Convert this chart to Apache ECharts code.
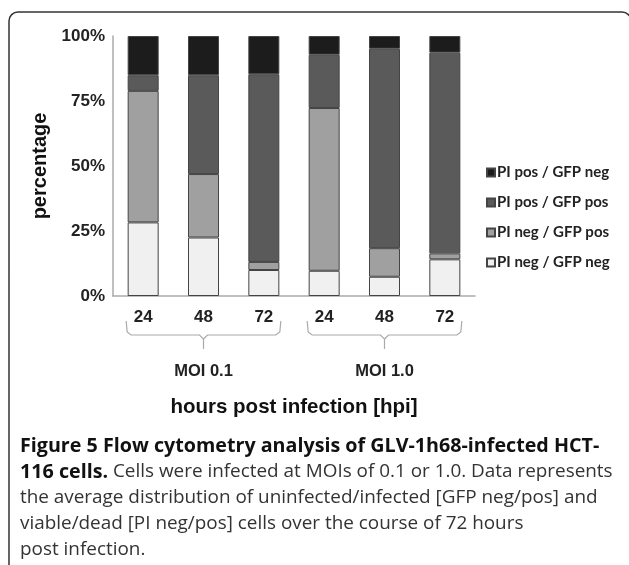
<!DOCTYPE html>
<html>
<head>
<meta charset="utf-8">
<title>Figure 5</title>
<script src="https://cdn.jsdelivr.net/npm/echarts@6/dist/echarts.min.js"></script>
<style>
  html, body { margin: 0; padding: 0; background: #fff; }
  #chart { width: 629px; height: 565px; }
</style>
</head>
<body>
<div id="chart"></div>
<script>
// categories: hpi within each MOI group
const hours = ['24', '48', '72', '24', '48', '72']
const groups = ['MOI 0.1', 'MOI 1.0']
const yTicks = [0, 25, 50, 75, 100]

// stacked percentages, bottom to top
const piNegGfpNeg = [28.3, 22.5, 10.0, 9.7, 7.4, 14.1]
const piNegGfpPos = [50.6, 24.4, 3.1, 62.6, 11.0, 2.3]
const piPosGfpPos = [6.0, 38.0, 72.2, 20.5, 76.7, 77.2]
const piPosGfpNeg = [15.1, 15.1, 14.7, 7.2, 4.9, 6.4]

const captionLines = [
  [['b', 'Figure 5 Flow cytometry analysis of GLV-1h68-infected HCT-']],
  [['b', '116 cells.'], ['r', ' Cells were infected at MOIs of 0.1 or 1.0. Data represents']],
  [['r', 'the average distribution of uninfected/infected [GFP neg/pos] and']],
  [['r', 'viable/dead [PI neg/pos] cells over the course of 72 hours']],
  [['r', 'post infection.']]
]

const myChart = echarts.init(document.getElementById('chart'), null, { renderer: 'canvas' })
const axisFont = '"Liberation Sans", Arial, sans-serif'
const captionFont = '"Open Sans", sans-serif'

function seriesOf(name, data, color) {
  return {
    name: name,
    type: 'bar',
    stack: 'total',
    barWidth: 31,
    data: data,
    itemStyle: { color: color, borderColor: '#444', borderWidth: 1 }
  }
}

const option = {
  animation: false,
  backgroundColor: '#fff',
  grid: { left: 113, right: 154, top: 36, bottom: 269 },
  legend: {
    orient: 'vertical',
    left: 481,
    top: 160,
    itemWidth: 8,
    itemHeight: 8,
    itemGap: 15,
    icon: 'rect',
    data: ['PI pos / GFP neg', 'PI pos / GFP pos', 'PI neg / GFP pos', 'PI neg / GFP neg'],
    textStyle: { fontFamily: 'Lato, sans-serif', fontWeight: 'bold', fontSize: 15, color: '#222', padding: [0, 0, 0, -3] }
  },
  xAxis: {
    type: 'category',
    data: hours,
    axisLine: { lineStyle: { color: '#aaa', width: 1.5 } },
    axisTick: { show: false },
    axisLabel: { margin: 13, fontFamily: axisFont, fontWeight: 'bold', fontSize: 17, color: '#222' },
    name: 'hours post infection [hpi]',
    nameLocation: 'middle',
    nameGap: 101,
    nameTextStyle: { fontFamily: axisFont, fontWeight: 'bold', fontSize: 20.5, color: '#111' }
  },
  yAxis: {
    type: 'value',
    min: yTicks[0],
    max: yTicks[yTicks.length - 1],
    interval: 25,
    splitLine: { show: false },
    axisLine: { show: true, lineStyle: { color: '#aaa', width: 1.5 } },
    axisTick: { show: false },
    axisLabel: { formatter: '{value}%', margin: 8, fontFamily: axisFont, fontWeight: 'bold', fontSize: 17, color: '#222' },
    name: 'percentage',
    nameLocation: 'middle',
    nameRotate: 90,
    nameGap: 57,
    nameTextStyle: { fontFamily: axisFont, fontWeight: 'bold', fontSize: 20, color: '#111' }
  },
  series: [
    seriesOf('PI neg / GFP neg', piNegGfpNeg, '#f0f0f0'),
    seriesOf('PI neg / GFP pos', piNegGfpPos, '#a0a0a0'),
    seriesOf('PI pos / GFP pos', piPosGfpPos, '#5a5a5a'),
    seriesOf('PI pos / GFP neg', piPosGfpNeg, '#1c1c1c')
  ]
}
myChart.setOption(option)

// braces and group labels under the axis, placed from the category scale
const graphics = []
const axisY = myChart.convertToPixel({ gridIndex: 0 }, [0, 0])[1]
const braceStyle = { fill: null, stroke: '#aaa', lineWidth: 1.2 }
groups.forEach(function(g, gi) {
  const first = myChart.convertToPixel({ xAxisIndex: 0 }, gi * 3)
  const last = myChart.convertToPixel({ xAxisIndex: 0 }, gi * 3 + 2)
  const x0 = first - 17
  const x1 = last + 17
  const xm = (first + last) / 2
  const yTop = axisY + 25
  const yLine = axisY + 39
  const yTip = axisY + 53
  graphics.push({
    type: 'polyline',
    shape: { points: [[x0, yTop], [x0 + 1, yLine - 3], [x0 + 5, yLine], [xm - 4, yLine], [xm, yLine + 4], [xm, yTip]] },
    style: braceStyle
  })
  graphics.push({
    type: 'polyline',
    shape: { points: [[x1, yTop], [x1 - 1, yLine - 3], [x1 - 5, yLine], [xm + 4, yLine], [xm, yLine + 4]] },
    style: braceStyle
  })
  graphics.push({
    type: 'text',
    x: xm,
    y: axisY + 75,
    style: { text: g, fontFamily: axisFont, fontWeight: 'bold', fontSize: 16.5, fill: '#222', align: 'center', verticalAlign: 'middle' }
  })
})

// figure frame
graphics.push({
  type: 'rect',
  shape: { x: 9, y: 12, width: 622, height: 600, r: 9 },
  style: { fill: null, stroke: '#333', lineWidth: 1.5 }
})

// caption
captionLines.forEach(function(line, i) {
  let text = ''
  line.forEach(function(part) {
    text += '{' + part[0] + '|' + part[1] + '}'
  })
  graphics.push({
    type: 'text',
    x: 20,
    y: 446 + i * 26,
    style: {
      text: text,
      verticalAlign: 'middle',
      rich: {
        b: { fontFamily: captionFont, fontWeight: 'bold', fontSize: 19.7, fill: '#111' },
        r: { fontFamily: captionFont, fontSize: 18.9, fill: '#333' }
      }
    }
  })
})

myChart.setOption({ graphic: graphics })
</script>
</body>
</html>
